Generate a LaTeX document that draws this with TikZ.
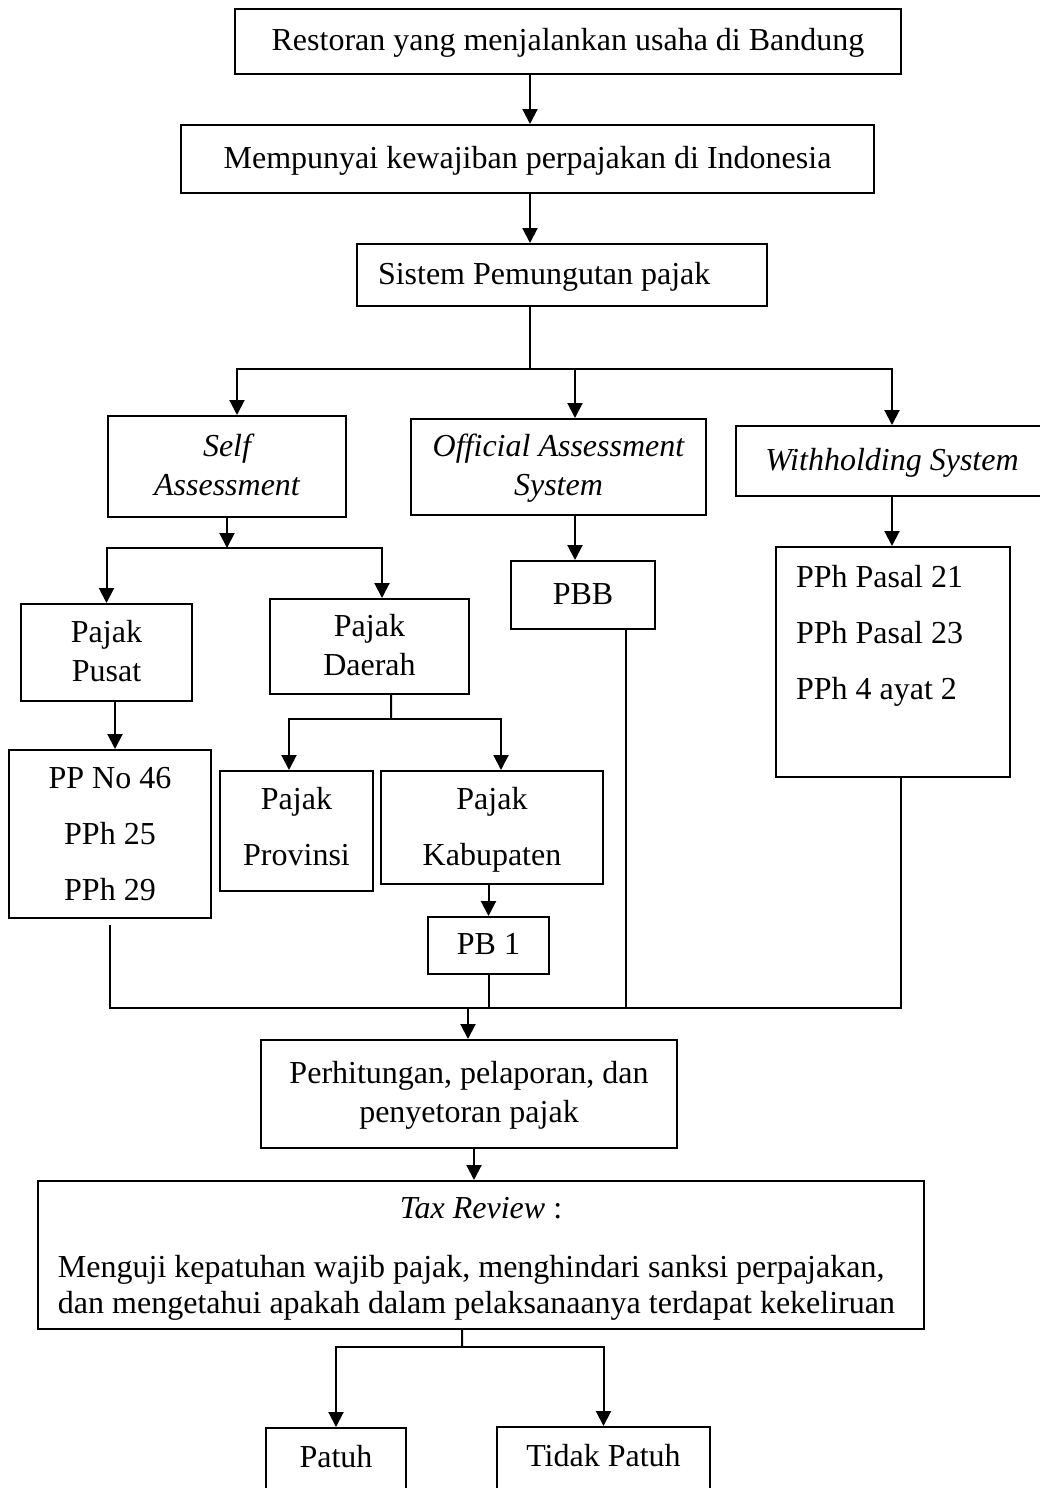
\documentclass[tikz,border=0pt]{standalone}
\usepackage{fontspec}
\setmainfont{Liberation Serif}
\usetikzlibrary{arrows.meta}
\begin{document}
\begin{tikzpicture}[x=0.4pt,y=-0.4pt,
		line width=0.8pt,
		stage/.style={draw,align=center,inner sep=2pt,text height=8.4pt,text depth=1pt,font=\fontsize{12.8}{15.6}\selectfont},
		twoline/.style={text height=24pt},
		stageit/.style={stage,font=\fontsize{12.8}{15.6}\selectfont\itshape},
		stagelist/.style={stage,font=\fontsize{12.8}{22.4}\selectfont},
		arr/.style={-{Triangle[length=6pt,width=6pt]}}]
		\useasboundingbox (0,0) rectangle (1040,1488);
		\node[stage,minimum width=266.4pt,minimum height=26pt] (resto) at (568,41.5) {Restoran yang menjalankan usaha di Bandung};
		\node[stage,minimum width=277.2pt,minimum height=27.2pt] (wajib) at (527.5,159) {Mempunyai kewajiban perpajakan di Indonesia};
		\node[stage,minimum width=164pt,minimum height=24.8pt,text width=147.2pt,inner xsep=8.4pt,align=flush left] (sistem) at (562,275) {Sistem Pemungutan pajak};
		\node[stageit,twoline,minimum width=95.2pt,minimum height=40.4pt] (self) at (227,466.5) {Self\\Assessment};
		\node[stageit,twoline,minimum width=118pt,minimum height=38.4pt] (official) at (558.5,467) {Official Assessment\\System};
		\node[stageit,minimum width=124.8pt,minimum height=28pt] (withhold) at (892,461) {Withholding System};
		\node[stage,twoline,minimum width=68.4pt,minimum height=38.8pt] (pusat) at (106.5,652.5) {Pajak\\Pusat};
		\node[stage,twoline,minimum width=79.6pt,minimum height=38pt] (daerah) at (369.5,646.5) {Pajak\\Daerah};
		\node[stage,minimum width=57.6pt,minimum height=27.2pt] (pbb) at (583,595) {PBB};
		\node[stagelist,minimum width=93.6pt,minimum height=92pt,text width=77.6pt,inner xsep=8pt,align=flush left,text height=8.4pt,text depth=68.4pt] (pph) at (893,662) {PPh Pasal 21\\PPh Pasal 23\\PPh 4 ayat 2};
		\node[stagelist,minimum width=80.8pt,minimum height=67.2pt,text height=53.2pt,text depth=0.4pt] (pp) at (110,834) {PP No 46\\PPh 25\\PPh 29};
		\node[stagelist,minimum width=61.2pt,minimum height=48pt,text height=30.8pt,text depth=3.6pt] (provinsi) at (296.5,831) {Pajak\\Provinsi};
		\node[stagelist,minimum width=88.8pt,minimum height=45.2pt,text height=30.8pt,text depth=0.8pt] (kabupaten) at (492,827.5) {Pajak\\Kabupaten};
		\node[stage,minimum width=48.4pt,minimum height=22.8pt] (pbsatu) at (488.5,945.5) {PB 1};
		\node[stage,twoline,minimum width=166.4pt,minimum height=43.2pt] (hitung) at (469,1094) {Perhitungan, pelaporan, dan\\penyetoran pajak};
		\node[stage,minimum width=354.4pt,minimum height=59.2pt,text width=338.4pt,inner xsep=8pt,align=flush left,text height=8.4pt,text depth=38pt,font=\fontsize{12.8}{14.4}\selectfont] (review) at (481,1255) {\makebox[\hsize]{\textit{Tax Review} :}\\[9.2pt]Menguji kepatuhan wajib pajak, menghindari sanksi perpajakan,\\dan mengetahui apakah dalam pelaksanaanya terdapat kekeliruan};
		\node[stage,minimum width=56pt,minimum height=28.8pt,text depth=6pt] (patuh) at (336,1464) {Patuh};
		\node[stage,minimum width=85.2pt,minimum height=28.8pt,text depth=6pt] (tidak) at (603.5,1463) {Tidak Patuh};
		\coordinate (spine) at (530,0);
		\draw[arr] (resto.south -| spine) -- (wajib.north -| spine);
		\draw[arr] (wajib.south -| spine) -- (sistem.north -| spine);
		\coordinate (bagi) at (530,369);
		\draw (sistem.south -| bagi) -- (bagi);
		\draw[arr] (bagi) -| ([xshift=4pt]self.north);
		\draw[arr] (bagi) -| ([xshift=6.6pt]official.north);
		\draw[arr] (bagi) -| (withhold.north);
		\coordinate (bagiself) at (227,548);
		\draw[arr] (self.south) -- (bagiself);
		\draw[arr] (bagiself) -| (pusat.north);
		\draw[arr] (bagiself) -| ([xshift=5pt]daerah.north);
		\draw[arr] ([xshift=6.6pt]official.south) -- ([xshift=6.6pt]official.south |- pbb.north);
		\draw[arr] (withhold.south) -- (withhold.south |- pph.north);
		\draw[arr] ([xshift=3.4pt]pusat.south) -- ([xshift=3.4pt]pusat.south |- pp.north);
		\coordinate (bagidaerah) at (391,719);
		\draw ([xshift=8.6pt]daerah.south) -- (bagidaerah);
		\draw[arr] (bagidaerah) -| ([xshift=-3pt]provinsi.north);
		\draw[arr] (bagidaerah) -| ([xshift=3.6pt]kabupaten.north);
		\draw[arr] (kabupaten.south -| pbsatu.north) -- (pbsatu.north);
		\coordinate (kumpul) at (468,1008);
		\draw ([yshift=-2.4pt]pp.south) |- ([xshift=3.2pt]pph.south |- kumpul) -- ([xshift=3.2pt]pph.south);
		\draw (pbsatu.south) -- (pbsatu.south |- kumpul);
		\draw ([xshift=17.2pt]pbb.south) -- ([xshift=17.2pt]pbb.south |- kumpul);
		\draw[arr] (kumpul) -- (kumpul |- hitung.north);
		\draw[arr] ([xshift=2pt]hitung.south) -- ([xshift=2pt]hitung.south |- review.north);
		\coordinate (hasil) at (462,1347);
		\draw ([xshift=-7.6pt]review.south) -- (hasil);
		\draw[arr] (hasil) -| (patuh.north);
		\draw[arr] (hasil) -| (tidak.north);
\end{tikzpicture}
\end{document}
